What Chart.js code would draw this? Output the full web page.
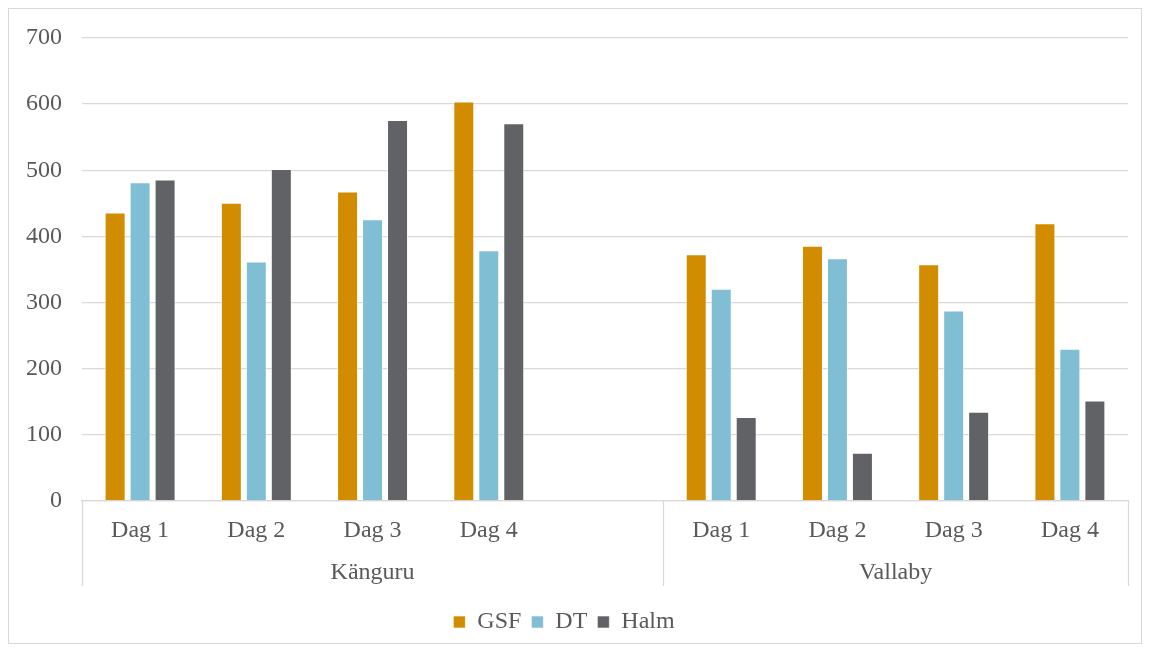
<!DOCTYPE html>
<html>
<head>
<meta charset="utf-8">
<script src="https://cdn.jsdelivr.net/npm/chart.js@4.4.1/dist/chart.umd.min.js"></script>
<style>
    body { margin: 0; background: #fff; }
    #wrap { position: relative; width: 1149px; height: 651px; }
    #frame { position: absolute; left: 8px; top: 8px; width: 1132px; height: 634px; border: 1px solid #d9d9d9; }
</style>
</head>
<body>
<div id="wrap">
    <div id="frame"></div>
    <canvas id="chart" width="1149" height="651"></canvas>
</div>
<script>
// Categories (empty slot separates the two groups)
const days = ['Dag 1', 'Dag 2', 'Dag 3', 'Dag 4', '', 'Dag 1', 'Dag 2', 'Dag 3', 'Dag 4'];
const groups = ['Känguru', 'Vallaby'];
const groupSizes = [5, 4];

const gsf = [436, 451, 468, 604, null, 373, 386, 358, 420];
const dt = [482, 362, 426, 379, null, 321, 367, 288, 230];
const halm = [486, 502, 576, 571, null, 127, 73, 135, 152];

const yTicks = [0, 100, 200, 300, 400, 500, 600, 700];

const FONT = '"Liberation Serif", "Times New Roman", serif';
const TEXT = '#595959';
const LINE = '#d9d9d9';

// Second level of the category axis: group labels and separators
const groupAxis = {
    id: 'groupAxis',
    afterDraw(chart) {
        const ctx = chart.ctx;
        const x = chart.scales.x;
        const area = chart.chartArea;
        const bottom = area.bottom + 85;
        const step = x.getPixelForValue(1) - x.getPixelForValue(0);
        let start = 0;
        const edges = [area.left];
        ctx.save();
        ctx.font = '24px ' + FONT;
        ctx.fillStyle = TEXT;
        ctx.textAlign = 'center';
        ctx.textBaseline = 'middle';
        groups.forEach((g, i) => {
            const end = start + groupSizes[i] - 1;
            const left = x.getPixelForValue(start) - step / 2;
            const right = x.getPixelForValue(end) + step / 2;
            edges.push(right);
            ctx.fillText(g, (left + right) / 2, area.bottom + 72);
            start = end + 1;
        });
        ctx.strokeStyle = LINE;
        ctx.lineWidth = 1.3;
        edges.forEach(e => {
            ctx.beginPath();
            ctx.moveTo(Math.round(e) + 0.5, area.bottom);
            ctx.lineTo(Math.round(e) + 0.5, bottom);
            ctx.stroke();
        });
        ctx.restore();
    }
};

new Chart(document.getElementById('chart'), {
    type: 'bar',
    data: {
        labels: days,
        datasets: [
            { label: 'GSF', data: gsf, backgroundColor: '#d18c00' },
            { label: 'DT', data: dt, backgroundColor: '#80bed3' },
            { label: 'Halm', data: halm, backgroundColor: '#616266' }
        ]
    },
    options: {
        responsive: false,
        animation: false,
        categoryPercentage: 0.645,
        barPercentage: 0.84,
        layout: { padding: { top: 38, left: 0, right: 21, bottom: 7 } },
        datasets: { bar: { borderColor: 'rgba(255,255,255,0.6)', borderWidth: 1 } },
        scales: {
            x: {
                grid: { display: false, drawTicks: false },
                border: { display: true, color: LINE, width: 1.3 },
                ticks: { color: TEXT, font: { family: FONT, size: 24 }, padding: 15, maxRotation: 0, autoSkip: false },
                afterFit(scale) { scale.height = 99; }
            },
            y: {
                min: 0,
                max: 700,
                afterBuildTicks(scale) { scale.ticks = yTicks.map(v => ({ value: v })); },
                grid: { color: LINE, lineWidth: 1.3, drawTicks: false },
                border: { display: false },
                ticks: { color: TEXT, font: { family: FONT, size: 24 }, padding: 20 },
                afterFit(scale) { scale.width = 82; }
            }
        },
        plugins: {
            legend: {
                position: 'bottom',
                labels: {
                    color: TEXT,
                    font: { family: FONT, size: 24 },
                    boxWidth: 12,
                    boxHeight: 12,
                    padding: 10
                }
            },
            tooltip: { enabled: false }
        }
    },
    plugins: [groupAxis]
});
</script>
</body>
</html>
